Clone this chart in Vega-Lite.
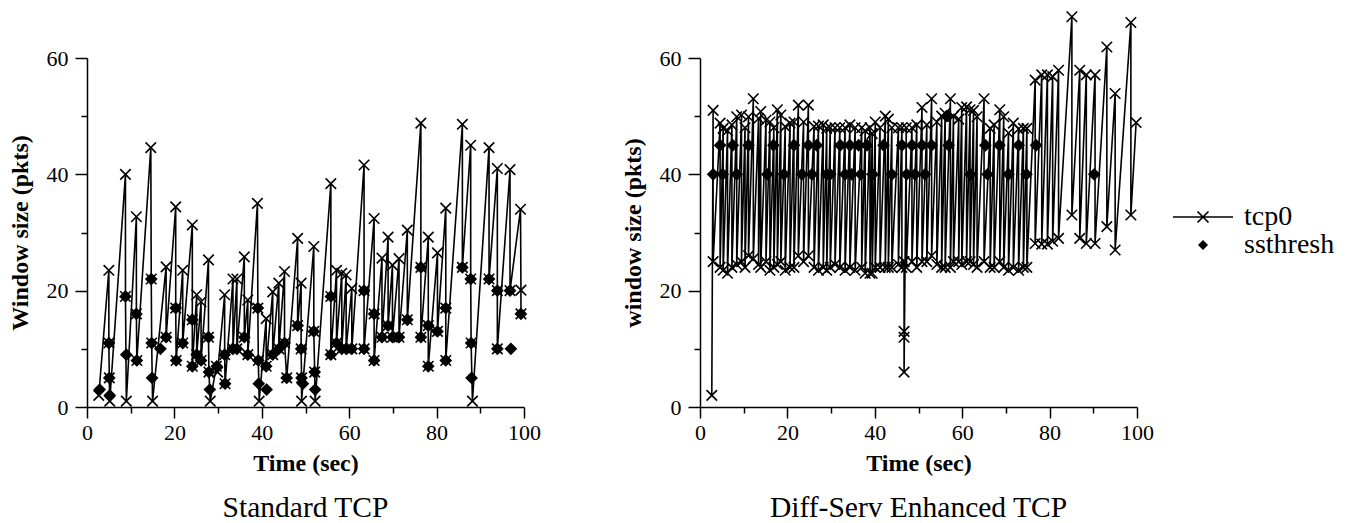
{
  "$schema": "https://vega.github.io/schema/vega-lite/v6.json",
  "autosize": {"type": "none"},
  "padding": {"left": 87, "top": 58, "right": 1266, "bottom": 465},
  "background": "white",
  "bounds": "flush",
  "spacing": 176,
  "config": {
    "font": "Liberation Serif",
    "view": {"stroke": null},
    "axis": {
      "grid": false,
      "domainColor": "black",
      "domainWidth": 1.5,
      "tickColor": "black",
      "tickWidth": 1.5,
      "labelFont": "Liberation Serif",
      "labelFontSize": 22,
      "labelColor": "black",
      "titleFont": "Liberation Serif",
      "titleFontSize": 24,
      "titleFontWeight": "bold",
      "titleColor": "black",
      "labelFlush": false,
      "labelOverlap": false
    },
    "title": {"font": "Liberation Serif", "fontSize": 29.5, "fontWeight": "normal", "color": "black"}
  },
  "datasets": {
    "A": [
      {"series":"tcp0","t":2.7,"w":2},{"series":"tcp0","t":5.0,"w":23.5},{"series":"tcp0","t":5.0,"w":11},{"series":"tcp0","t":5.1,"w":5},{"series":"tcp0","t":5.2,"w":1},
      {"series":"tcp0","t":8.8,"w":40},{"series":"tcp0","t":8.8,"w":19},{"series":"tcp0","t":9.0,"w":1},
      {"series":"tcp0","t":11.3,"w":32.7},{"series":"tcp0","t":11.3,"w":16},{"series":"tcp0","t":11.4,"w":8},
      {"series":"tcp0","t":14.6,"w":44.6},{"series":"tcp0","t":14.7,"w":22},{"series":"tcp0","t":14.8,"w":11},{"series":"tcp0","t":15.0,"w":1},
      {"series":"tcp0","t":18.1,"w":24.1},{"series":"tcp0","t":18.1,"w":12},
      {"series":"tcp0","t":20.3,"w":34.4},{"series":"tcp0","t":20.3,"w":17},{"series":"tcp0","t":20.4,"w":8},
      {"series":"tcp0","t":21.9,"w":23.5},{"series":"tcp0","t":21.9,"w":11},
      {"series":"tcp0","t":24.1,"w":31.3},{"series":"tcp0","t":24.1,"w":15},{"series":"tcp0","t":24.1,"w":7},
      {"series":"tcp0","t":25.1,"w":19.3},{"series":"tcp0","t":25.1,"w":9},
      {"series":"tcp0","t":26.1,"w":18.1},{"series":"tcp0","t":26.1,"w":8},
      {"series":"tcp0","t":27.8,"w":25.3},{"series":"tcp0","t":27.8,"w":12},{"series":"tcp0","t":27.9,"w":6},{"series":"tcp0","t":28.2,"w":1},
      {"series":"tcp0","t":29.6,"w":7},{"series":"tcp0","t":29.9,"w":6},
      {"series":"tcp0","t":31.5,"w":19.3},{"series":"tcp0","t":31.5,"w":9},{"series":"tcp0","t":31.6,"w":4},
      {"series":"tcp0","t":33.4,"w":22},{"series":"tcp0","t":33.4,"w":10},
      {"series":"tcp0","t":34.3,"w":22},{"series":"tcp0","t":34.3,"w":10},
      {"series":"tcp0","t":36.0,"w":25.8},{"series":"tcp0","t":36.0,"w":12},
      {"series":"tcp0","t":36.8,"w":18.4},{"series":"tcp0","t":36.8,"w":9},
      {"series":"tcp0","t":39.0,"w":35},{"series":"tcp0","t":39.1,"w":17},{"series":"tcp0","t":39.2,"w":8},{"series":"tcp0","t":39.4,"w":1},
      {"series":"tcp0","t":41.0,"w":15.2},{"series":"tcp0","t":41.0,"w":7},
      {"series":"tcp0","t":42.5,"w":19.8},{"series":"tcp0","t":42.5,"w":9},
      {"series":"tcp0","t":43.9,"w":21.3},{"series":"tcp0","t":43.9,"w":10},
      {"series":"tcp0","t":45.2,"w":23.3},{"series":"tcp0","t":45.2,"w":11},{"series":"tcp0","t":45.7,"w":5},
      {"series":"tcp0","t":48.2,"w":29},{"series":"tcp0","t":48.2,"w":14},
      {"series":"tcp0","t":49.0,"w":21.3},{"series":"tcp0","t":49.0,"w":10},{"series":"tcp0","t":49.1,"w":5},{"series":"tcp0","t":49.1,"w":1},
      {"series":"tcp0","t":51.9,"w":27.6},{"series":"tcp0","t":51.9,"w":13},{"series":"tcp0","t":52.1,"w":6},{"series":"tcp0","t":52.2,"w":1},
      {"series":"tcp0","t":55.8,"w":38.4},{"series":"tcp0","t":55.8,"w":19},{"series":"tcp0","t":55.8,"w":9},
      {"series":"tcp0","t":57.1,"w":23.5},{"series":"tcp0","t":57.1,"w":11},
      {"series":"tcp0","t":58.3,"w":23},{"series":"tcp0","t":58.3,"w":10},
      {"series":"tcp0","t":59.3,"w":22.7},{"series":"tcp0","t":59.3,"w":10},
      {"series":"tcp0","t":60.6,"w":20.4},{"series":"tcp0","t":60.6,"w":10},
      {"series":"tcp0","t":63.4,"w":41.6},{"series":"tcp0","t":63.4,"w":20},{"series":"tcp0","t":63.4,"w":10},
      {"series":"tcp0","t":65.7,"w":32.4},{"series":"tcp0","t":65.7,"w":16},{"series":"tcp0","t":65.7,"w":8},
      {"series":"tcp0","t":67.5,"w":25.6},{"series":"tcp0","t":67.5,"w":12},
      {"series":"tcp0","t":68.9,"w":29.2},{"series":"tcp0","t":68.9,"w":14},
      {"series":"tcp0","t":69.9,"w":24.4},{"series":"tcp0","t":69.9,"w":12},
      {"series":"tcp0","t":71.4,"w":25.5},{"series":"tcp0","t":71.4,"w":12},
      {"series":"tcp0","t":73.3,"w":30.4},{"series":"tcp0","t":73.3,"w":15},
      {"series":"tcp0","t":76.4,"w":48.8},{"series":"tcp0","t":76.4,"w":24},{"series":"tcp0","t":76.4,"w":12},
      {"series":"tcp0","t":78.1,"w":29.2},{"series":"tcp0","t":78.1,"w":14},{"series":"tcp0","t":78.1,"w":7},
      {"series":"tcp0","t":80.2,"w":26.5},{"series":"tcp0","t":80.2,"w":13},
      {"series":"tcp0","t":82.1,"w":34.2},{"series":"tcp0","t":82.1,"w":17},{"series":"tcp0","t":82.1,"w":8},
      {"series":"tcp0","t":85.9,"w":48.6},{"series":"tcp0","t":85.9,"w":24},
      {"series":"tcp0","t":87.8,"w":45},{"series":"tcp0","t":87.8,"w":22},{"series":"tcp0","t":87.9,"w":11},{"series":"tcp0","t":88.2,"w":1},
      {"series":"tcp0","t":92.0,"w":44.6},{"series":"tcp0","t":92.0,"w":22},
      {"series":"tcp0","t":93.9,"w":41},{"series":"tcp0","t":93.9,"w":20},{"series":"tcp0","t":93.9,"w":10},
      {"series":"tcp0","t":96.8,"w":40.8},{"series":"tcp0","t":96.8,"w":20},
      {"series":"tcp0","t":99.2,"w":34},{"series":"tcp0","t":99.3,"w":20.1},{"series":"tcp0","t":99.3,"w":16},
      {"series":"ssthresh","t":2.9,"w":3},{"series":"ssthresh","t":5.0,"w":11},{"series":"ssthresh","t":5.1,"w":5},{"series":"ssthresh","t":5.2,"w":2},
      {"series":"ssthresh","t":8.8,"w":19},{"series":"ssthresh","t":9.0,"w":9},{"series":"ssthresh","t":11.3,"w":16},{"series":"ssthresh","t":11.4,"w":8},
      {"series":"ssthresh","t":14.7,"w":22},{"series":"ssthresh","t":14.8,"w":11},{"series":"ssthresh","t":14.9,"w":5},{"series":"ssthresh","t":16.8,"w":10},
      {"series":"ssthresh","t":18.1,"w":12},{"series":"ssthresh","t":20.3,"w":17},{"series":"ssthresh","t":20.4,"w":8},{"series":"ssthresh","t":21.9,"w":11},
      {"series":"ssthresh","t":24.1,"w":15},{"series":"ssthresh","t":24.1,"w":7},{"series":"ssthresh","t":25.1,"w":9},{"series":"ssthresh","t":26.1,"w":8},
      {"series":"ssthresh","t":27.8,"w":12},{"series":"ssthresh","t":27.9,"w":6},{"series":"ssthresh","t":28.1,"w":3},{"series":"ssthresh","t":29.7,"w":7},
      {"series":"ssthresh","t":31.5,"w":9},{"series":"ssthresh","t":31.6,"w":4},{"series":"ssthresh","t":33.4,"w":10},{"series":"ssthresh","t":34.3,"w":10},
      {"series":"ssthresh","t":36.0,"w":12},{"series":"ssthresh","t":36.8,"w":9},{"series":"ssthresh","t":39.1,"w":17},{"series":"ssthresh","t":39.2,"w":8},
      {"series":"ssthresh","t":39.3,"w":4},{"series":"ssthresh","t":41.0,"w":7},{"series":"ssthresh","t":41.1,"w":3},{"series":"ssthresh","t":42.5,"w":9},
      {"series":"ssthresh","t":43.9,"w":10},{"series":"ssthresh","t":45.2,"w":11},{"series":"ssthresh","t":45.7,"w":5},{"series":"ssthresh","t":48.2,"w":14},
      {"series":"ssthresh","t":49.0,"w":10},{"series":"ssthresh","t":49.1,"w":5},{"series":"ssthresh","t":49.4,"w":4},{"series":"ssthresh","t":51.9,"w":13},
      {"series":"ssthresh","t":52.1,"w":6},{"series":"ssthresh","t":52.2,"w":3},{"series":"ssthresh","t":55.8,"w":19},{"series":"ssthresh","t":55.8,"w":9},
      {"series":"ssthresh","t":57.1,"w":11},{"series":"ssthresh","t":58.3,"w":10},{"series":"ssthresh","t":59.3,"w":10},{"series":"ssthresh","t":60.6,"w":10},
      {"series":"ssthresh","t":63.4,"w":20},{"series":"ssthresh","t":63.4,"w":10},{"series":"ssthresh","t":65.7,"w":16},{"series":"ssthresh","t":65.7,"w":8},
      {"series":"ssthresh","t":67.5,"w":12},{"series":"ssthresh","t":68.9,"w":14},{"series":"ssthresh","t":69.9,"w":12},{"series":"ssthresh","t":71.4,"w":12},
      {"series":"ssthresh","t":73.3,"w":15},{"series":"ssthresh","t":76.4,"w":24},{"series":"ssthresh","t":76.4,"w":12},{"series":"ssthresh","t":78.1,"w":14},
      {"series":"ssthresh","t":78.1,"w":7},{"series":"ssthresh","t":80.2,"w":13},{"series":"ssthresh","t":82.1,"w":17},{"series":"ssthresh","t":82.1,"w":8},
      {"series":"ssthresh","t":85.9,"w":24},{"series":"ssthresh","t":87.8,"w":22},{"series":"ssthresh","t":87.9,"w":11},{"series":"ssthresh","t":88.0,"w":5},
      {"series":"ssthresh","t":92.0,"w":22},{"series":"ssthresh","t":93.9,"w":20},{"series":"ssthresh","t":93.9,"w":10},{"series":"ssthresh","t":96.8,"w":20},
      {"series":"ssthresh","t":97.0,"w":10},{"series":"ssthresh","t":99.3,"w":16}
    ],
    "B": [
      {"series":"tcp0","t":2.7,"w":2},{"series":"tcp0","t":3.0,"w":51},{"series":"tcp0","t":3.0,"w":25},
      {"series":"tcp0","t":4.6,"w":48.8},{"series":"tcp0","t":4.6,"w":24},
      {"series":"tcp0","t":5.3,"w":47.9},{"series":"tcp0","t":5.3,"w":23.5},
      {"series":"tcp0","t":6.3,"w":47.5},{"series":"tcp0","t":6.3,"w":23},
      {"series":"tcp0","t":7.3,"w":48.5},{"series":"tcp0","t":7.3,"w":24},
      {"series":"tcp0","t":8.4,"w":49.9},{"series":"tcp0","t":8.4,"w":24.5},
      {"series":"tcp0","t":9.5,"w":50.2},{"series":"tcp0","t":9.5,"w":25},
      {"series":"tcp0","t":10.3,"w":48},{"series":"tcp0","t":10.3,"w":24},
      {"series":"tcp0","t":11.1,"w":49.9},{"series":"tcp0","t":11.1,"w":26},
      {"series":"tcp0","t":12.2,"w":53},{"series":"tcp0","t":12.2,"w":25.5},
      {"series":"tcp0","t":13.4,"w":49.6},{"series":"tcp0","t":13.4,"w":24.5},
      {"series":"tcp0","t":13.9,"w":50.8},{"series":"tcp0","t":13.9,"w":24},
      {"series":"tcp0","t":15.1,"w":49.3},{"series":"tcp0","t":15.1,"w":25},
      {"series":"tcp0","t":16.0,"w":49},{"series":"tcp0","t":16.0,"w":23.5},
      {"series":"tcp0","t":16.9,"w":48},{"series":"tcp0","t":16.9,"w":24},
      {"series":"tcp0","t":17.7,"w":51.1},{"series":"tcp0","t":17.7,"w":24.5},
      {"series":"tcp0","t":18.5,"w":50.2},{"series":"tcp0","t":18.5,"w":25},
      {"series":"tcp0","t":19.5,"w":48.2},{"series":"tcp0","t":19.5,"w":23.5},
      {"series":"tcp0","t":20.6,"w":48.8},{"series":"tcp0","t":20.6,"w":24},
      {"series":"tcp0","t":21.5,"w":49},{"series":"tcp0","t":21.5,"w":24},
      {"series":"tcp0","t":22.5,"w":51.9},{"series":"tcp0","t":22.5,"w":26},
      {"series":"tcp0","t":23.7,"w":49},{"series":"tcp0","t":23.7,"w":25},
      {"series":"tcp0","t":24.8,"w":51.9},{"series":"tcp0","t":24.8,"w":26},
      {"series":"tcp0","t":26.1,"w":48.2},{"series":"tcp0","t":26.1,"w":24},
      {"series":"tcp0","t":27.1,"w":48.3},{"series":"tcp0","t":27.1,"w":23.5},
      {"series":"tcp0","t":28.2,"w":48.5},{"series":"tcp0","t":28.2,"w":24},
      {"series":"tcp0","t":29.0,"w":47.9},{"series":"tcp0","t":29.0,"w":23.5},
      {"series":"tcp0","t":29.8,"w":48},{"series":"tcp0","t":29.8,"w":24},
      {"series":"tcp0","t":30.9,"w":48},{"series":"tcp0","t":30.9,"w":24.5},
      {"series":"tcp0","t":32.0,"w":48},{"series":"tcp0","t":32.0,"w":24},
      {"series":"tcp0","t":33.2,"w":48},{"series":"tcp0","t":33.2,"w":23.5},
      {"series":"tcp0","t":34.3,"w":48.5},{"series":"tcp0","t":34.3,"w":24},
      {"series":"tcp0","t":35.5,"w":48},{"series":"tcp0","t":35.5,"w":23.5},
      {"series":"tcp0","t":37.0,"w":48},{"series":"tcp0","t":37.0,"w":24},
      {"series":"tcp0","t":37.8,"w":47.5},{"series":"tcp0","t":37.8,"w":23},
      {"series":"tcp0","t":38.9,"w":48},{"series":"tcp0","t":38.9,"w":23},
      {"series":"tcp0","t":39.4,"w":47},{"series":"tcp0","t":39.4,"w":23},
      {"series":"tcp0","t":40.1,"w":49},{"series":"tcp0","t":40.1,"w":24},
      {"series":"tcp0","t":41.2,"w":48},{"series":"tcp0","t":41.2,"w":24},
      {"series":"tcp0","t":42.4,"w":50},{"series":"tcp0","t":42.4,"w":24},
      {"series":"tcp0","t":43.1,"w":49.5},{"series":"tcp0","t":43.1,"w":24},
      {"series":"tcp0","t":43.9,"w":48},{"series":"tcp0","t":43.9,"w":24},
      {"series":"tcp0","t":45.4,"w":48},{"series":"tcp0","t":45.4,"w":24.5},
      {"series":"tcp0","t":46.2,"w":48},{"series":"tcp0","t":46.2,"w":24},
      {"series":"tcp0","t":46.7,"w":25},{"series":"tcp0","t":46.7,"w":13},{"series":"tcp0","t":46.7,"w":12},{"series":"tcp0","t":46.7,"w":6},
      {"series":"tcp0","t":47.2,"w":48},{"series":"tcp0","t":47.2,"w":24},
      {"series":"tcp0","t":48.5,"w":48},{"series":"tcp0","t":48.5,"w":25},
      {"series":"tcp0","t":49.6,"w":48.5},{"series":"tcp0","t":49.6,"w":24},
      {"series":"tcp0","t":50.8,"w":51.5},{"series":"tcp0","t":50.8,"w":25},
      {"series":"tcp0","t":51.9,"w":48.5},{"series":"tcp0","t":51.9,"w":25},
      {"series":"tcp0","t":53.0,"w":53},{"series":"tcp0","t":53.0,"w":26},
      {"series":"tcp0","t":54.2,"w":49},{"series":"tcp0","t":54.2,"w":24.5},
      {"series":"tcp0","t":55.3,"w":50},{"series":"tcp0","t":55.3,"w":24},
      {"series":"tcp0","t":56.1,"w":50.5},{"series":"tcp0","t":56.1,"w":24},
      {"series":"tcp0","t":57.3,"w":53},{"series":"tcp0","t":57.3,"w":24},
      {"series":"tcp0","t":58.0,"w":50},{"series":"tcp0","t":58.0,"w":25},
      {"series":"tcp0","t":59.2,"w":49.5},{"series":"tcp0","t":59.2,"w":25},
      {"series":"tcp0","t":59.9,"w":51.5},{"series":"tcp0","t":59.9,"w":24.5},
      {"series":"tcp0","t":61.0,"w":51.6},{"series":"tcp0","t":61.0,"w":25},
      {"series":"tcp0","t":61.8,"w":51.1},{"series":"tcp0","t":61.8,"w":25},
      {"series":"tcp0","t":62.6,"w":51},{"series":"tcp0","t":62.6,"w":24.5},
      {"series":"tcp0","t":63.4,"w":49.9},{"series":"tcp0","t":63.4,"w":24},
      {"series":"tcp0","t":65.0,"w":53},{"series":"tcp0","t":65.0,"w":25},
      {"series":"tcp0","t":66.4,"w":47.9},{"series":"tcp0","t":66.4,"w":24},
      {"series":"tcp0","t":67.3,"w":48.5},{"series":"tcp0","t":67.3,"w":24},
      {"series":"tcp0","t":68.6,"w":51.1},{"series":"tcp0","t":68.6,"w":25},
      {"series":"tcp0","t":69.5,"w":49.9},{"series":"tcp0","t":69.5,"w":24},
      {"series":"tcp0","t":70.6,"w":47.1},{"series":"tcp0","t":70.6,"w":23.5},
      {"series":"tcp0","t":71.7,"w":48.8},{"series":"tcp0","t":71.7,"w":24},
      {"series":"tcp0","t":72.9,"w":47.8},{"series":"tcp0","t":72.9,"w":23.5},
      {"series":"tcp0","t":74.0,"w":47.9},{"series":"tcp0","t":74.0,"w":24},
      {"series":"tcp0","t":74.8,"w":47.9},{"series":"tcp0","t":74.8,"w":24},
      {"series":"tcp0","t":76.7,"w":56.2},{"series":"tcp0","t":76.7,"w":28.1},
      {"series":"tcp0","t":78.2,"w":57.1},{"series":"tcp0","t":78.2,"w":28},
      {"series":"tcp0","t":79.5,"w":57.1},{"series":"tcp0","t":79.5,"w":28},
      {"series":"tcp0","t":80.7,"w":56.8},{"series":"tcp0","t":80.7,"w":28.5},
      {"series":"tcp0","t":82.05,"w":57.9},{"series":"tcp0","t":82.05,"w":29},
      {"series":"tcp0","t":85.1,"w":67.1},{"series":"tcp0","t":85.1,"w":33},
      {"series":"tcp0","t":86.9,"w":57.9},{"series":"tcp0","t":86.9,"w":29},
      {"series":"tcp0","t":88.4,"w":57.1},{"series":"tcp0","t":88.4,"w":28.1},
      {"series":"tcp0","t":90.4,"w":57.1},{"series":"tcp0","t":90.4,"w":28.1},
      {"series":"tcp0","t":93.1,"w":61.9},{"series":"tcp0","t":93.1,"w":31},
      {"series":"tcp0","t":95.0,"w":53.9},{"series":"tcp0","t":95.0,"w":27},
      {"series":"tcp0","t":98.6,"w":66.1},{"series":"tcp0","t":98.6,"w":33},
      {"series":"tcp0","t":99.8,"w":48.9},
      {"series":"ssthresh","t":4.6,"w":45},{"series":"ssthresh","t":7.5,"w":45},{"series":"ssthresh","t":11.1,"w":45},{"series":"ssthresh","t":16.8,"w":45},
      {"series":"ssthresh","t":21.5,"w":45},{"series":"ssthresh","t":24.8,"w":45},{"series":"ssthresh","t":26.7,"w":45},{"series":"ssthresh","t":32.1,"w":45},
      {"series":"ssthresh","t":34.3,"w":45},{"series":"ssthresh","t":36.3,"w":45},{"series":"ssthresh","t":38.2,"w":45},{"series":"ssthresh","t":42.0,"w":45},
      {"series":"ssthresh","t":46.2,"w":45},{"series":"ssthresh","t":48.5,"w":45},{"series":"ssthresh","t":50.8,"w":45},{"series":"ssthresh","t":53.0,"w":45},
      {"series":"ssthresh","t":56.9,"w":45},{"series":"ssthresh","t":65.3,"w":45},{"series":"ssthresh","t":68.5,"w":45},{"series":"ssthresh","t":72.9,"w":45},
      {"series":"ssthresh","t":76.9,"w":45},
      {"series":"ssthresh","t":3.0,"w":40},{"series":"ssthresh","t":5.2,"w":40},{"series":"ssthresh","t":8.4,"w":40},{"series":"ssthresh","t":15.4,"w":40},
      {"series":"ssthresh","t":19.2,"w":40},{"series":"ssthresh","t":23.3,"w":40},{"series":"ssthresh","t":25.6,"w":40},{"series":"ssthresh","t":29.0,"w":40},
      {"series":"ssthresh","t":29.8,"w":40},{"series":"ssthresh","t":33.2,"w":40},{"series":"ssthresh","t":34.7,"w":40},{"series":"ssthresh","t":36.8,"w":40},
      {"series":"ssthresh","t":39.5,"w":40},{"series":"ssthresh","t":43.9,"w":40},{"series":"ssthresh","t":47.3,"w":40},{"series":"ssthresh","t":49.2,"w":40},
      {"series":"ssthresh","t":51.5,"w":40},{"series":"ssthresh","t":61.9,"w":40},{"series":"ssthresh","t":65.8,"w":40},{"series":"ssthresh","t":70.6,"w":40},
      {"series":"ssthresh","t":74.7,"w":40},{"series":"ssthresh","t":90.2,"w":40},
      {"series":"ssthresh","t":56.5,"w":50}
    ]
  },
  "resolve": {"scale": {"shape": "independent"}, "legend": {"shape": "independent"}},
  "hconcat": [
    {
      "width": 437,
      "height": 349,
      "data": {"name": "A"},
      "title": {"text": "Standard TCP", "orient": "bottom", "anchor": "middle", "offset": 19},
      "encoding": {
        "x": {"field": "t", "type": "quantitative", "scale": {"domain": [0, 100], "nice": false},
          "axis": {"title": "Time (sec)", "values": [0,10,20,30,40,50,60,70,80,90,100],
            "labelExpr": "datum.value % 20 === 0 ? datum.label : ''",
            "tickSize": {"condition": {"test": "datum.value % 20 === 0", "value": 11}, "value": 6},
            "labelPadding": 4, "titlePadding": 8}},
        "y": {"field": "w", "type": "quantitative", "scale": {"domain": [0, 60], "nice": false},
          "axis": {"title": "Window size (pkts)", "values": [0,10,20,30,40,50,60],
            "labelExpr": "datum.value % 20 === 0 ? datum.label : ''",
            "tickSize": {"condition": {"test": "datum.value % 20 === 0", "value": 12}, "value": 6},
            "labelPadding": 7, "titlePadding": 14}}
      },
      "layer": [
        {"transform": [{"filter": "datum.series === 'tcp0'"}],
          "mark": {"type": "line", "color": "black", "strokeWidth": 1.6},
          "encoding": {"order": {"value": null}}},
        {"mark": {"type": "point", "filled": true, "fill": "black", "stroke": "black", "strokeWidth": 1.6, "size": 110, "opacity": 1},
          "encoding": {"shape": {"field": "series", "type": "nominal",
            "scale": {"domain": ["tcp0", "ssthresh"], "range": ["M-1,-1L1,1M1,-1L-1,1", "diamond"]}, "legend": null}}}
      ]
    },
    {
      "width": 437,
      "height": 349,
      "data": {"name": "B"},
      "title": {"text": "Diff-Serv Enhanced TCP", "orient": "bottom", "anchor": "middle", "offset": 19},
      "encoding": {
        "x": {"field": "t", "type": "quantitative", "scale": {"domain": [0, 100], "nice": false},
          "axis": {"title": "Time (sec)", "values": [0,10,20,30,40,50,60,70,80,90,100],
            "labelExpr": "datum.value % 20 === 0 ? datum.label : ''",
            "tickSize": {"condition": {"test": "datum.value % 20 === 0", "value": 11}, "value": 6},
            "labelPadding": 4, "titlePadding": 8}},
        "y": {"field": "w", "type": "quantitative", "scale": {"domain": [0, 60], "nice": false},
          "axis": {"title": "window size (pkts)", "values": [0,10,20,30,40,50,60],
            "labelExpr": "datum.value % 20 === 0 ? datum.label : ''",
            "tickSize": {"condition": {"test": "datum.value % 20 === 0", "value": 12}, "value": 6},
            "labelPadding": 7, "titlePadding": 14}}
      },
      "resolve": {"scale": {"shape": "independent"}, "legend": {"shape": "independent"}},
      "layer": [
        {"transform": [{"filter": "datum.series === 'tcp0'"}],
          "mark": {"type": "line", "color": "black", "strokeWidth": 1.6},
          "encoding": {"order": {"value": null}}},
        {"mark": {"type": "point", "filled": true, "fill": "black", "stroke": "black", "strokeWidth": 1.6, "size": 110, "opacity": 1},
          "encoding": {"shape": {"field": "series", "type": "nominal",
            "scale": {"domain": ["tcp0", "ssthresh"], "range": ["M-1,-1L1,1M1,-1L-1,1", "diamond"]}, "legend": null}}},
        {"transform": [{"filter": "false"}],
          "mark": {"type": "point", "filled": true, "fill": "black", "opacity": 1},
          "encoding": {"shape": {"field": "series", "type": "nominal",
            "scale": {"domain": ["tcp0", "ssthresh"], "range": [
              "M-3,-0.08L3,-0.08L3,0.08L-3,0.08ZM-0.49,-0.61L0.61,0.49L0.49,0.61L-0.61,-0.49ZM0.61,-0.49L-0.49,0.61L-0.61,0.49L0.49,-0.61Z",
              "M0,-0.5L0.5,0L0,0.5L-0.5,0Z"]},
            "legend": {"orient": "none", "legendX": 489, "legendY": 145, "title": null, "padding": 0,
              "symbolSize": 400, "symbolFillColor": "black", "symbolOpacity": 1,
              "labelFont": "Liberation Serif", "labelFontSize": 28, "labelColor": "black", "labelOffset": 27, "rowPadding": -5}}}}
      ]
    }
  ]
}
